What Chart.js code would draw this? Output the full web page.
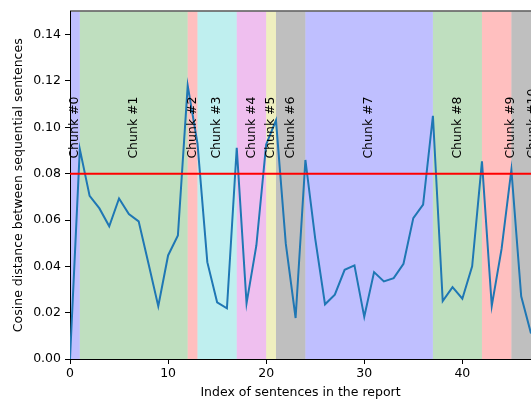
<!DOCTYPE html>
<html>
<head>
<meta charset="utf-8">
<script src="https://cdn.jsdelivr.net/npm/chart.js@4"></script>
<style>
  body { margin: 0; background: #fff; }
</style>
</head>
<body>
<canvas id="chart" width="531" height="403"></canvas>
<script>
// cosine distance between sentence i and i+1
const distances = [
  0.0, 0.0906, 0.0704, 0.065, 0.0573, 0.0693, 0.0626, 0.0594, 0.0412, 0.0228, 0.0447, 0.0533,
  0.118, 0.093, 0.0418, 0.0245, 0.0219, 0.0912, 0.024, 0.049, 0.0926, 0.103, 0.0498, 0.0177,
  0.0859, 0.052, 0.0236, 0.0278, 0.0385, 0.0404, 0.0182, 0.0375, 0.0335, 0.0349, 0.0411, 0.0608,
  0.0666, 0.105, 0.025, 0.031, 0.026, 0.040, 0.0853, 0.0229, 0.0475, 0.0817, 0.0271, 0.011
];
const threshold = 0.08;

// chunk spans (sentence index)
const chunkStarts = [0, 1, 12, 13, 17, 20, 21, 24, 37, 42, 45];
const chunkEnds   = [1, 12, 13, 17, 20, 21, 24, 37, 42, 45, 50];
const chunkLabels = ["Chunk #0", "Chunk #1", "Chunk #2", "Chunk #3", "Chunk #4", "Chunk #5",
                     "Chunk #6", "Chunk #7", "Chunk #8", "Chunk #9", "Chunk #10"];
const labelX = [0.5, 6.5, 12.5, 15, 18.5, 20.5, 22.5, 30.5, 39.5, 44.9, 47.2];
const labelY = 0.0865;
const chunkColors = ["rgba(0,0,255,0.25)", "rgba(0,128,0,0.25)", "rgba(255,0,0,0.25)",
                     "rgba(0,191,191,0.25)", "rgba(191,0,191,0.25)", "rgba(191,191,0,0.25)",
                     "rgba(0,0,0,0.25)", "rgba(0,0,255,0.25)", "rgba(0,128,0,0.25)",
                     "rgba(255,0,0,0.25)", "rgba(0,0,0,0.25)"];

const xMax = 47;
const FONT = "DejaVu Sans";
const FS = 12.5;

const points = distances.map((v, i) => ({ x: i, y: v }));

const chunkPlugin = {
  id: "chunks",
  beforeDraw(chart) {
    const { ctx, chartArea: a, scales: { x } } = chart;
    ctx.save();
    ctx.beginPath();
    ctx.rect(a.left, a.top, a.right - a.left, a.bottom - a.top);
    ctx.clip();
    chunkStarts.forEach((s, i) => {
      const x0 = x.getPixelForValue(s);
      const x1 = x.getPixelForValue(chunkEnds[i]);
      ctx.fillStyle = chunkColors[i];
      ctx.fillRect(x0, a.top, x1 - x0, a.bottom - a.top);
    });
    ctx.restore();
  },
  afterDatasetsDraw(chart) {
    const { ctx, scales: { x, y } } = chart;
    ctx.save();
    ctx.fillStyle = "#000";
    ctx.font = FS + "px '" + FONT + "'";
    ctx.textAlign = "left";
    ctx.textBaseline = "middle";
    chunkLabels.forEach((t, i) => {
      ctx.save();
      ctx.translate(x.getPixelForValue(labelX[i]), y.getPixelForValue(labelY));
      ctx.rotate(-Math.PI / 2);
      ctx.fillText(t, 0, 0);
      ctx.restore();
    });
    ctx.restore();
  },
  afterDraw(chart) {
    const { ctx, chartArea: a } = chart;
    ctx.save();
    ctx.strokeStyle = "#000";
    ctx.lineWidth = 1;
    ctx.beginPath();
    ctx.moveTo(a.left, a.top - 0.5);
    ctx.lineTo(a.right, a.top - 0.5);
    ctx.stroke();
    ctx.restore();
  }
};

new Chart(document.getElementById("chart"), {
  type: "line",
  data: {
    datasets: [
      {
        data: points,
        borderColor: "#1f77b4",
        borderWidth: 2,
        pointRadius: 0,
        tension: 0,
        order: 1
      },
      {
        data: [{ x: 0, y: threshold }, { x: xMax, y: threshold }],
        borderColor: "#ff0000",
        borderWidth: 2,
        pointRadius: 0,
        order: 0
      }
    ]
  },
  options: {
    responsive: false,
    animation: false,
    devicePixelRatio: 1,
    layout: { padding: { top: 10, right: 0, left: 0, bottom: 0 } },
    plugins: { legend: { display: false }, tooltip: { enabled: false } },
    scales: {
      x: {
        type: "linear",
        min: 0,
        max: xMax,
        grid: { drawOnChartArea: false, tickColor: "#000", tickLength: 5 },
        border: { display: true, color: "#000", width: 1 },
        ticks: {
          stepSize: 10,
          includeBounds: false,
          maxRotation: 0,
          padding: 2,
          color: "#000",
          font: { family: FONT, size: FS }
        },
        title: {
          display: true,
          text: "Index of sentences in the report",
          color: "#000",
          font: { family: FONT, size: FS },
          padding: { top: 0, bottom: 3 }
        },
        afterFit(scale) { scale.height = 44; }
      },
      y: {
        min: 0,
        max: 0.15,
        grid: { drawOnChartArea: false, tickColor: "#000", tickLength: 5 },
        border: { display: true, color: "#000", width: 1 },
        ticks: {
          stepSize: 0.02,
          includeBounds: false,
          padding: 4,
          color: "#000",
          font: { family: FONT, size: FS },
          callback: v => v.toFixed(2)
        },
        title: {
          display: true,
          text: "Cosine distance between sequential sentences",
          color: "#000",
          font: { family: FONT, size: FS },
          padding: { top: 11, bottom: 0 }
        },
        afterFit(scale) { scale.width = 70; }
      }
    }
  },
  plugins: [chunkPlugin]
});
</script>
</body>
</html>
